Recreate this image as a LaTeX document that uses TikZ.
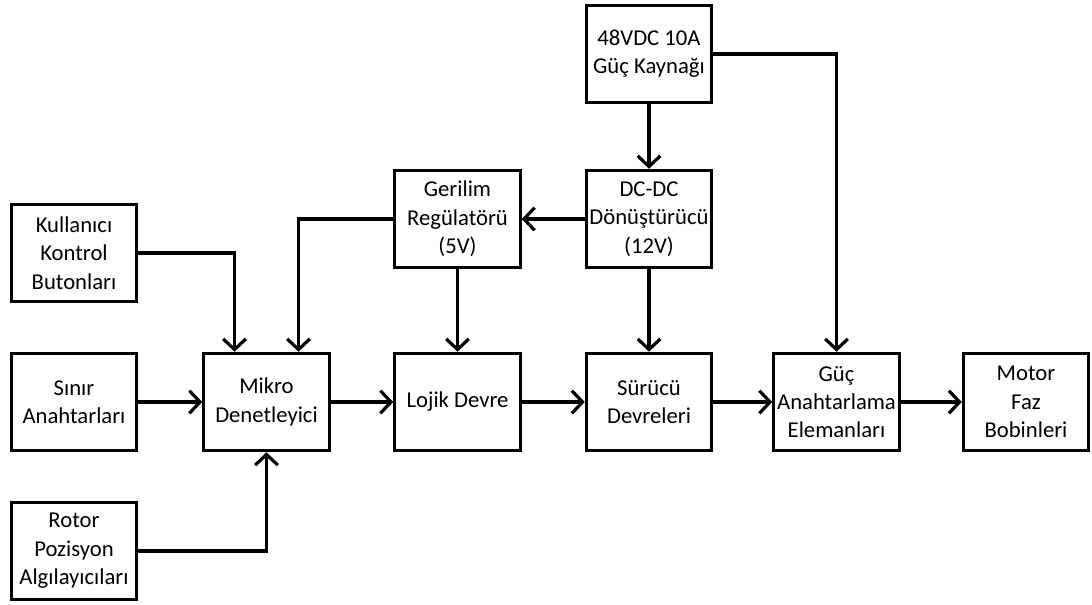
\documentclass[tikz,border=0pt]{standalone}
\usepackage{fontspec}
\setmainfont{Carlito}
\usetikzlibrary{arrows.meta,calc}
\begin{document}
\begin{tikzpicture}[x=0.75pt,y=-0.75pt,
  blk/.style={draw,line width=2.4pt,minimum width=94pt,minimum height=73pt,align=center,inner sep=1pt,
    font=\fontsize{17pt}{21.3pt}\selectfont},
  arr/.style={line width=2.4pt,-{Straight Barb[length=8pt,width=17pt,line width=2.4pt]}},
  ln/.style={line width=2.4pt}]
\useasboundingbox (0,0) rectangle (1092,604);
\node[blk] (kul) at (74,253) {Kullanıcı\\Kontrol\\Butonları};
\node[blk] (sin) at (74,402) {Sınır\\Anahtarları};
\node[blk] (rot) at (74,551) {Rotor\\Pozisyon\\Algılayıcıları};
\node[blk] (mik) at (266.5,402) {Mikro\\Denetleyici};
\node[blk] (loj) at (457.5,402) {Lojik Devre};
\node[blk] (ger) at (457.5,219) {Gerilim\\Regülatörü\\(5V)};
\node[blk] (dcd) at (649,219) {DC-DC\\Dönüştürücü\\(12V)};
\node[blk] (ps) at (649,54) {48VDC 10A\\Güç Kaynağı};
\node[blk] (sur) at (649,402) {Sürücü\\Devreleri};
\node[blk] (guc) at (836.5,402) {Güç\\Anahtarlama\\Elemanları};
\node[blk] (mot) at (1026,402) {Motor\\Faz\\Bobinleri};
\draw[arr] (kul.east) -| ($(mik.north)+(-32,0)$);
\draw[arr] (ger.west) -| ($(mik.north)+(32,0)$);
\draw[arr] (rot.east) -| (mik.south);
\draw[arr] (sin) -- (mik);
\draw[arr] (mik) -- (loj);
\draw[arr] (loj) -- (sur);
\draw[arr] (sur) -- (guc);
\draw[arr] (guc) -- (mot);
\draw[arr] (ps) -- (dcd);
\draw[arr] (dcd) -- (ger);
\draw[arr] (ger) -- (loj);
\draw[arr] (dcd) -- (sur);
\draw[arr] (ps.east) -| (guc.north);
\end{tikzpicture}
\end{document}
